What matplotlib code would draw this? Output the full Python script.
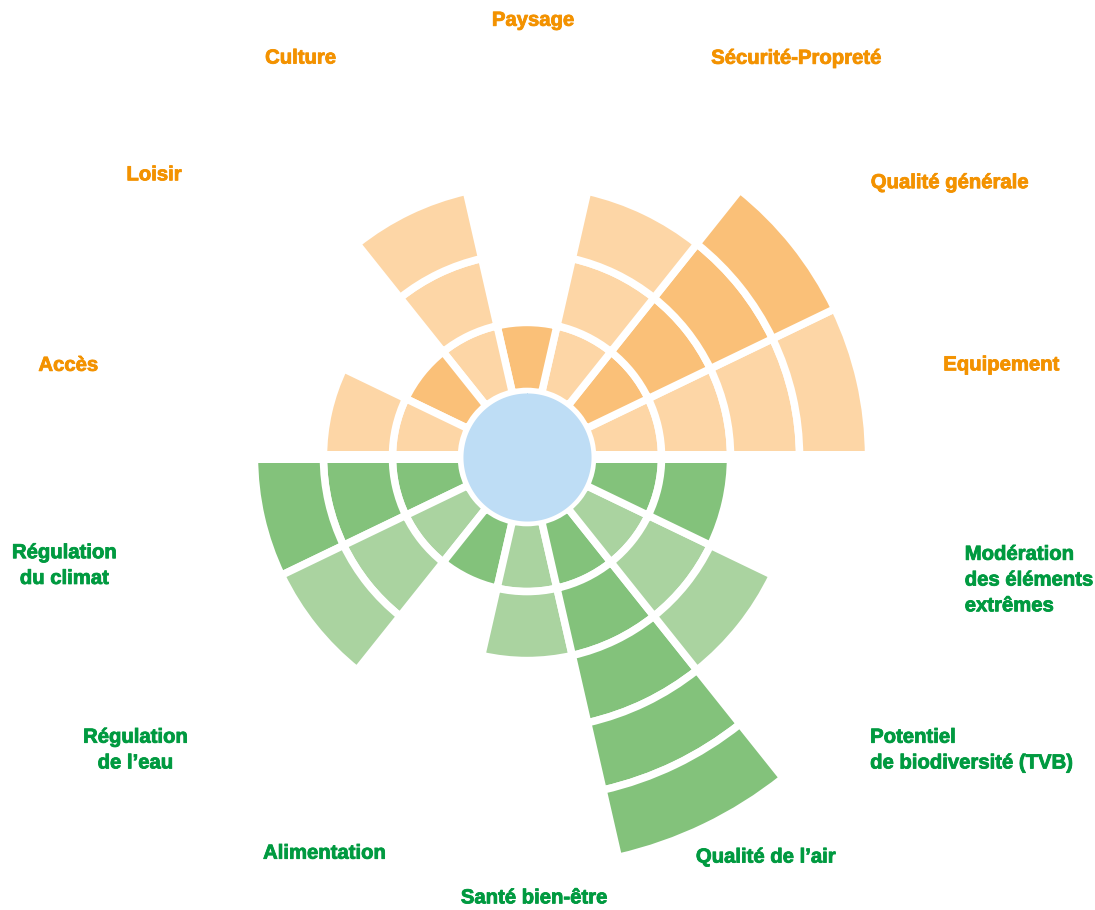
import numpy as np
import matplotlib
matplotlib.use("Agg")
import matplotlib.pyplot as plt
import matplotlib.patheffects as pe

# ---- data ----
categories = [
    "Equipement", "Qualité générale", "Sécurité-Propreté", "Paysage",
    "Culture", "Loisir", "Accès",
    "Régulation\ndu climat", "Régulation\nde l’eau", "Alimentation",
    "Santé bien-être", "Qualité de l’air",
    "Potentiel\nde biodiversité (TVB)", "Modération\ndes éléments\nextrêmes",
]
groups = ["social"] * 7 + ["eco"] * 7
levels = [4, 4, 3, 1, 3, 1, 2,
          3, 3, 1, 2, 5, 3, 2]

# ---- layout / style ----
label_theta_deg = [11.0, 33.0, 56.0, 89.2, 119.6, 142.9, 168.7,
                   193.2, 216.8, 242.9, 270.9, 300.8, 319.5, 344.3]
label_r = [7.0, 7.30, 6.97, 6.33, 6.65, 6.78, 6.78,
           6.89, 7.09, 6.45, 6.39, 6.75, 6.54, 6.59]
label_ha = ["center"] * 12 + ["left", "left"]

fill_colors = {
    "social": ["#FDD6A6", "#FAC078"],   # light, dark
    "eco": ["#AAD3A0", "#83C27B"],
}
text_colors = {"social": "#F39200", "eco": "#009A40"}
center_color = "#BEDDF5"

W, H, DPI = 1095, 910, 100
unit_px = 69.0
hole = 0.95
r_center = 0.928
rmax = 6.0
cx, cy = 527, 457

fig = plt.figure(figsize=(W / DPI, H / DPI), dpi=DPI)
ax_w = 2 * rmax * unit_px / W
ax_h = 2 * rmax * unit_px / H
ax = fig.add_axes([cx / W - ax_w / 2, (H - cy) / H - ax_h / 2, ax_w, ax_h],
                  projection="polar")
ax.set_ylim(0, rmax)
ax.set_theta_zero_location("E")
ax.set_theta_direction(1)
ax.axis("off")

n = len(categories)
width = 2 * np.pi / n
edge_lw = 7.5 * 72 / DPI

for i, (cat, g, lv) in enumerate(zip(categories, groups, levels)):
    theta = (i + 0.5) * width
    shade = fill_colors[g][i % 2]
    for j in range(lv):
        ax.bar(theta, 1.0, width=width, bottom=hole + j, color=shade,
               edgecolor="white", linewidth=edge_lw, align="center", zorder=2)

# horizontal separation between the two halves
for t in (0.0, np.pi):
    ax.plot([t, t], [hole, rmax], color="white", lw=12 * 72 / DPI,
            solid_capstyle="butt", zorder=3)

# central disc
tt = np.linspace(0, 2 * np.pi, 400)
ax.fill_between(tt, 0, r_center, color=center_color, lw=0, zorder=4)

# labels
for cat, g, th, r, ha in zip(categories, groups, label_theta_deg, label_r, label_ha):
    c = text_colors[g]
    ax.text(np.deg2rad(th), r, cat, color=c, fontsize=14.6,
            fontweight="bold", family="Liberation Sans", ha=ha, va="center",
            multialignment=ha, linespacing=1.45, clip_on=False,
            path_effects=[pe.withStroke(linewidth=0.6, foreground=c)])

fig.savefig("out.png", dpi=DPI, facecolor="white")
